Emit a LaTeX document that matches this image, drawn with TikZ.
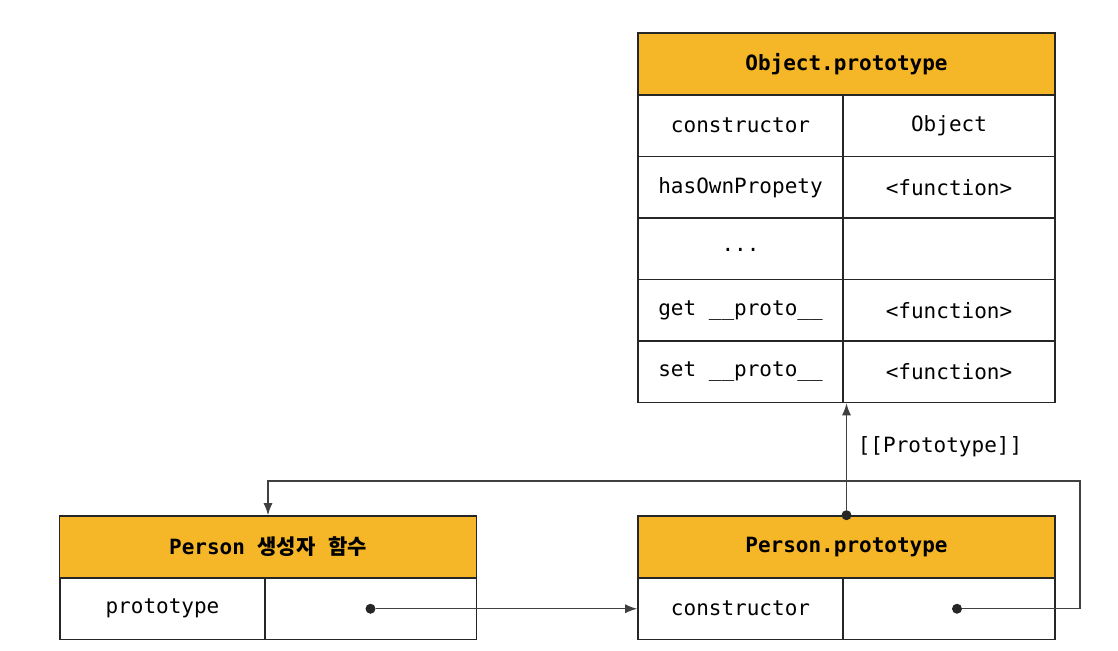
\documentclass[tikz,border=0pt]{standalone}
\usepackage{fontspec}
\setmainfont{DejaVu Sans Mono}
\newfontfamily\krfont{Noto Sans CJK KR}
\usetikzlibrary{arrows.meta}
\definecolor{headorange}{RGB}{245,183,40}
\tikzset{
  cell/.style={draw=black!85,line width=1.6pt,minimum height=61.5pt,inner sep=0pt,font=\fontsize{21}{25}\selectfont},
  keycell/.style={cell,minimum width=205pt},
  valcell/.style={cell,minimum width=212pt},
  headcell/.style={cell,fill=headorange,minimum width=417pt,minimum height=62pt,font=\fontsize{21}{25}\selectfont\bfseries},
  link/.style={draw=black!75,line width=1.3pt,-{Latex[length=12pt,width=9pt]}},
  dot/.style={circle,fill=black!85,inner sep=0pt,minimum size=10pt}
}
\begin{document}
\begin{tikzpicture}[x=1pt,y=-1pt]
\useasboundingbox (0,0) rectangle (1118,650);

% Object.prototype
\node[headcell] (objhead) at (846.5,64) {Object.prototype};
\node[keycell] (o1k) at (740.5,125.75) {constructor};
\node[valcell] (o1v) at (949,125.75) {Object};
\node[keycell] (o2k) at (740.5,187.25) {hasOwnPropety};
\node[valcell] (o2v) at (949,187.25) {<function>};
\node[keycell] (o3k) at (740.5,248.75) {\raisebox{-5pt}{...}};
\node[valcell] (o3v) at (949,248.75) {};
\node[keycell] (o4k) at (740.5,310.25) {get \_\_proto\_\_};
\node[valcell] (o4v) at (949,310.25) {<function>};
\node[keycell] (o5k) at (740.5,371.75) {set \_\_proto\_\_};
\node[valcell] (o5v) at (949,371.75) {<function>};

% Person
\node[headcell] (pfhead) at (268,547) {Person {\krfont 생성자} {\krfont 함수}};
\node[keycell] (pfk) at (162.5,608.75) {prototype};
\node[valcell] (pfv) at (370.5,608.75) {};

% Person.prototype
\node[headcell] (pphead) at (846.5,547) {Person.prototype};
\node[keycell] (ppk) at (740.5,608.75) {constructor};
\node[valcell] (ppv) at (949,608.75) {};

\node[dot] (protodot) at (pfv.center) {};
\node[dot] (ctordot) at ([xshift=8pt]ppv.center) {};
\node[dot] (updot) at (pphead.north) {};
\coordinate (loopcorner) at (1080,481);

\draw[link] (protodot) -- (ppk.west);
\draw[link] (ctordot) -| (loopcorner) -| (pfhead.north);
\draw[link] (updot) -- (updot |- o5k.south);
\node[font=\fontsize{21}{25}\selectfont] (protolabel) at (940,447) {[[Prototype]]};
\end{tikzpicture}
\end{document}
